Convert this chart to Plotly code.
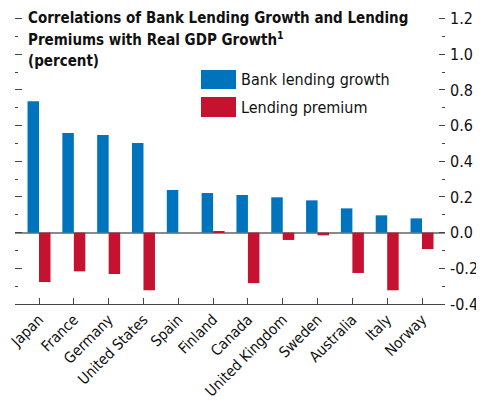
import plotly.graph_objects as go

countries = ["Japan", "France", "Germany", "United States", "Spain", "Finland",
             "Canada", "United Kingdom", "Sweden", "Australia", "Italy", "Norway"]
bank_lending_growth = [0.736, 0.559, 0.547, 0.503, 0.239, 0.222, 0.211, 0.198, 0.181, 0.136, 0.097, 0.080]
lending_premium = [-0.277, -0.217, -0.232, -0.323, 0.0, 0.009, -0.283, -0.041, -0.015, -0.226, -0.323, -0.092]
y_tickvals = [-0.4, -0.2, 0.0, 0.2, 0.4, 0.6, 0.8, 1.0, 1.2]
y_ticktext = ["-0.4", "-0.2", "0.0", "0.2", "0.4", "0.6", "0.8", "1.0", "1.2"]
title_lines = ["Correlations of Bank Lending Growth and Lending",
               "Premiums with Real GDP Growth<sup>1</sup>",
               "(percent)"]
legend_names = ["Bank lending growth", "Lending premium"]

BLUE = "rgb(0,115,189)"
RED = "rgb(196,18,48)"
FONT = "DejaVu Sans Condensed, Liberation Sans, sans-serif"

# page body has an 8px default margin; compensate
OFF = 8
W, H = 484 - OFF, 414 - OFF
ML, MR, MT, MB = 15 - OFF, 39, 15 - OFF, 110
PW, PH = W - ML - MR, H - MT - MB

def px_x(x):
    return (x - OFF - ML) / PW

def px_y(y):
    return (H - MB - (y - OFF)) / PH

fig = go.Figure()
fig.add_trace(go.Bar(x=countries, y=bank_lending_growth, name=legend_names[0],
                     marker_color=BLUE, marker_line_width=0, showlegend=False))
fig.add_trace(go.Bar(x=countries, y=lending_premium, name=legend_names[1],
                     marker_color=RED, marker_line_width=0, showlegend=False))
# invisible trace for left-side ticks
fig.add_trace(go.Scatter(x=[countries[0]], y=[0], yaxis="y2", mode="markers",
                         marker_opacity=0, showlegend=False, hoverinfo="skip"))

yrange = [-0.4, 1.22]
fig.update_layout(
    width=W, height=H,
    margin=dict(l=ML, r=MR, t=MT, b=MB),
    paper_bgcolor="white", plot_bgcolor="white",
    barmode="group", bargap=0.34, bargroupgap=0,
    font=dict(family=FONT, size=15, color="#111"),
    xaxis=dict(range=[-0.69, 11.66], showline=True, linecolor="#444", linewidth=1,
               ticks="inside", ticklen=6, tickcolor="#444", tickangle=-45,
               tickfont=dict(family=FONT, size=15, color="#111"), showgrid=False,
               zeroline=False, automargin=False),
    yaxis=dict(range=yrange, side="right", tickvals=y_tickvals, ticktext=y_ticktext,
               ticks="inside", ticklen=6, tickcolor="#444", tickwidth=1,
               ticklabelstandoff=4,
               minor=dict(dtick=0.1, tick0=0, ticks="inside", ticklen=3, tickcolor="#444"),
               tickfont=dict(family=FONT, size=16, color="#111"),
               showgrid=False, showline=False, automargin=False,
               zeroline=True, zerolinecolor="#8a8a8a", zerolinewidth=1.5),
    yaxis2=dict(range=yrange, side="left", overlaying="y", tickvals=y_tickvals,
                showticklabels=False, ticks="inside", ticklen=7, tickcolor="#444",
                minor=dict(dtick=0.1, tick0=0, ticks="inside", ticklen=3, tickcolor="#444"),
                showgrid=False, zeroline=False, showline=False, automargin=False),
)

# Title lines (anchored at bottom so the superscript does not shift line 2)
title_bottoms = [29, 51, 72]
for txt, bot in zip(title_lines, title_bottoms):
    fig.add_annotation(text="<b>" + txt + "</b>", xref="paper", yref="paper",
                       x=px_x(26), y=px_y(bot), xanchor="left", yanchor="bottom",
                       showarrow=False, font=dict(family=FONT, size=15, color="#111"))

# Legend (manual)
legend_boxes = [(70, 89, BLUE), (97, 117, RED)]
for name, (y0, y1, col) in zip(legend_names, legend_boxes):
    fig.add_shape(type="rect", xref="paper", yref="paper",
                  x0=px_x(201), x1=px_x(236), y0=px_y(y1), y1=px_y(y0),
                  fillcolor=col, line_width=0)
    fig.add_annotation(text=name, xref="paper", yref="paper",
                       x=px_x(239), y=px_y((y0 + y1) / 2), xanchor="left", yanchor="middle",
                       showarrow=False, font=dict(family=FONT, size=16, color="#111"))

fig.write_html("out.html")
